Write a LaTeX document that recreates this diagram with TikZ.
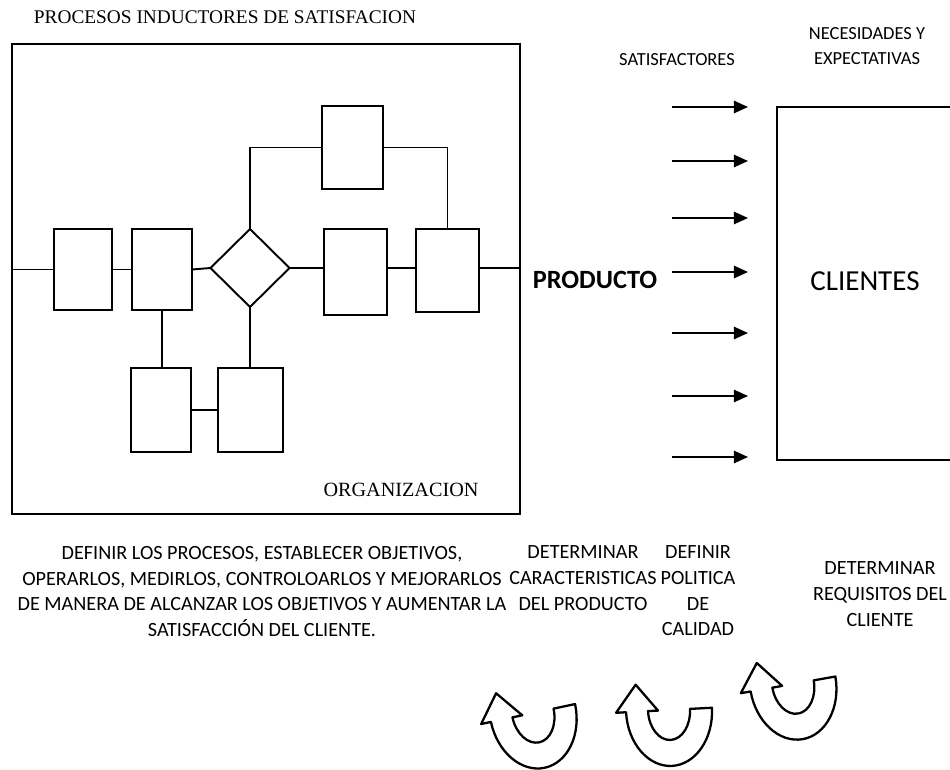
\documentclass[tikz,border=0pt]{standalone}
\usepackage{fontspec}
\setmainfont{Liberation Serif}
\newfontfamily\calf{Carlito}
\usetikzlibrary{shapes.geometric,arrows.meta}
\newcommand\uarrow[3]{%
  \begin{scope}[shift={(#1,#2)}, x=0.02cm, y=0.02cm, rotate=#3]
    \draw[line width=1.3pt, line join=round]
      (43,0) arc[start angle=0, end angle=-180, x radius=43, y radius=56]
      -- (-53,0) -- (-32,27) -- (-11,0) -- (-21,0)
      arc[start angle=180, end angle=360, x radius=21, y radius=30] -- cycle;
  \end{scope}}
\begin{document}
\begin{tikzpicture}[x=0.02cm, y=-0.02cm,
  ln/.style={line width=1.1pt},
  bx/.style n args={2}{draw, line width=1.1pt, minimum width=#1*0.02cm,
     minimum height=#2*0.02cm, inner sep=0pt, outer sep=0pt},
  arr/.style={line width=1pt, -{Triangle[length=8pt, width=7pt]}},
  serif/.style={font=\fontsize{11}{13}\selectfont, inner sep=0pt},
  lbl/.style={font=\calf\fontsize{11.5}{14.6}\selectfont, align=center, inner sep=0pt},
  small/.style={font=\calf\fontsize{10.5}{14.7}\selectfont, align=center, inner sep=0pt}]
\useasboundingbox (0,0) rectangle (950,770);

% title
\node[serif] (title) at (225,17) {PROCESOS INDUCTORES DE SATISFACION};

% organization frame
\node[draw, line width=1pt, minimum width=508*0.02cm, minimum height=470*0.02cm,
      inner sep=0pt, outer sep=0pt] (org) at (266,279) {};
\node[serif, font=\fontsize{11.5}{13}\selectfont] (orgl) at (401,490) {ORGANIZACION};

% process boxes
\node[bx={58}{81}] (b1) at (83,269.5) {};
\node[bx={60}{81}] (b2) at (162,269.5) {};
\node[draw, diamond, line width=1.1pt, minimum width=79*0.02cm, minimum height=78*0.02cm,
      inner sep=0pt, outer sep=0pt] (d) at (250,268) {};
\node[bx={63}{86}] (b4) at (355.5,272) {};
\node[bx={63}{83}] (b5) at (447.5,270.5) {};
\node[bx={60}{84}] (b6) at (161,410) {};
\node[bx={65}{84}] (b7) at (250.5,410) {};
\node[bx={61}{83}] (bt) at (352.5,147.5) {};

% connectors
\draw[ln] (b1.west -| org.west) -- (b1.west);
\draw[ln] (b1.east) -- (b2.west);
\draw[ln] (b2.east) -- (d.west);
\draw[ln] (d.east) -- (d.east -| b4.west);
\draw[ln] (d.east -| b4.east) -- (d.east -| b5.west);
\draw[ln] (d.east -| b5.east) -- (d.east -| org.east);
\draw[ln] (b2.south) -- (b2.south |- b6.north);
\draw[ln] (d.south) -- (d.south |- b7.north);
\draw[ln] (b6.east) -- (b6.east -| b7.west);
\draw[ln] (d.north) |- (bt.west);
\draw[ln] (bt.east) -| (b5.north);

% right side
\node[font=\calf\bfseries\fontsize{15}{18}\selectfont, inner sep=0pt] (prod) at (595,280) {PRODUCTO};
\node[small] (satis) at (677,60) {SATISFACTORES};
\node[small] (nec) at (867,46) {NECESIDADES Y\\EXPECTATIVAS};
\foreach \yy [count=\i] in {107,161,218,272,333,396,457} {
  \coordinate (s\i) at (672,\yy);
  \coordinate (e\i) at (748,\yy);
  \draw[arr] (s\i) -- (e\i);
}
\node[minimum width=173*0.02cm, minimum height=353*0.02cm, inner sep=0pt, outer sep=0pt]
   (cl) at (863.5,283.5) {};
\draw[line width=1pt] (cl.north east) -- (cl.north west) -- (cl.south west) -- (cl.south east);
\node[font=\calf\fontsize{16.5}{20}\selectfont, inner sep=0pt] (cll) at (865,281) {CLIENTES};

% bottom texts
\node[lbl] (t1) at (262,591.5) {DEFINIR LOS PROCESOS, ESTABLECER OBJETIVOS,\\
  OPERARLOS, MEDIRLOS, CONTROLOARLOS Y MEJORARLOS\\
  DE MANERA DE ALCANZAR LOS OBJETIVOS Y AUMENTAR LA\\
  SATISFACCIÓN DEL CLIENTE.};
\node[lbl] (t2) at (583,578) {DETERMINAR\\CARACTERISTICAS\\DEL PRODUCTO};
\node[lbl] (t3) at (698,591) {DEFINIR\\POLITICA\\DE\\CALIDAD};
\node[lbl] (t4) at (880,594) {DETERMINAR\\REQUISITOS DEL\\CLIENTE};

% U-turn arrows
\uarrow{533}{713}{12}
\uarrow{669}{710}{3}
\uarrow{793}{684}{10}
\end{tikzpicture}
\end{document}
